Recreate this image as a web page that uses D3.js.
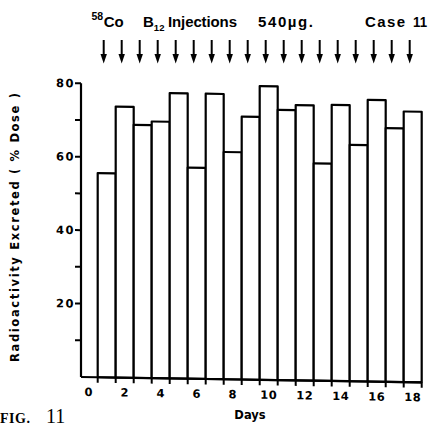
<!DOCTYPE html>
<html>
<head>
<meta charset="utf-8">
<script src="https://cdn.jsdelivr.net/npm/d3@7"></script>
<style>
  html, body { margin: 0; padding: 0; background: #fff; }
  svg { display: block; }
</style>
</head>
<body>
<svg id="chart" width="432" height="426"></svg>
<script>
// Daily urinary radioactivity after repeated 58Co B12 injections (Case 11)
const days = [1, 2, 3, 4, 5, 6, 7, 8, 9, 10, 11, 12, 13, 14, 15, 16, 17, 18];
const excreted = [55.6, 73.8, 68.9, 69.9, 77.7, 57.5, 77.7, 61.9, 71.6, 80.0,
                  73.6, 75.0, 59.2, 75.2, 64.4, 76.7, 69.1, 73.7];
const injectionDays = [1, 2, 3, 4, 5, 6, 7, 8, 9, 10, 11, 12, 13, 14, 15, 16, 17, 18];
const xTickLabels = [0, 2, 4, 6, 8, 10, 12, 14, 16, 18];
const yTickValues = [10, 20, 30, 40, 50, 60, 70, 80];
const yTickLabels = [20, 40, 60, 80];

const svg = d3.select("#chart");
const sans = "'DejaVu Sans', 'Liberation Sans', sans-serif";

const axisX = 81, baseY = 377, topY = 83.3;
const x = d3.scaleLinear().domain([0.5, 18.5]).range([97.7, 421.7]);
const y = d3.scaleLinear().domain([0, 80]).range([baseY, topY]);

// plot area with the slight slant of the printed figure
const plot = svg.append("g")
  .attr("transform", `translate(${axisX},${baseY}) skewY(0.9) translate(${-axisX},${-baseY})`);

// bars
plot.append("g").selectAll("rect")
  .data(days.map((d, i) => ({ d, v: excreted[i] })))
  .join("rect")
  .attr("x", p => x(p.d - 0.5))
  .attr("width", p => x(p.d + 0.5) - x(p.d - 0.5))
  .attr("y", p => y(p.v))
  .attr("height", p => y(0) - y(p.v))
  .attr("fill", "#fff")
  .attr("stroke", "#000")
  .attr("stroke-width", 2.2)
  .attr("stroke-linejoin", "round");

// y axis line
plot.append("line")
  .attr("x1", axisX).attr("x2", axisX)
  .attr("y1", y(80)).attr("y2", y(0))
  .attr("stroke", "#000").attr("stroke-width", 2.2);

// x axis line
plot.append("line")
  .attr("x1", axisX).attr("x2", x(18.5))
  .attr("y1", y(0)).attr("y2", y(0))
  .attr("stroke", "#000").attr("stroke-width", 2.2);

// y ticks
plot.append("g").selectAll("line")
  .data(yTickValues).join("line")
  .attr("x1", axisX - 6).attr("x2", axisX)
  .attr("y1", d => y(d)).attr("y2", d => y(d))
  .attr("stroke", "#000").attr("stroke-width", 2);

plot.append("g").selectAll("text")
  .data(yTickLabels).join("text")
  .attr("x", axisX - 6).attr("y", d => y(d))
  .attr("dy", "0.36em")
  .attr("text-anchor", "end")
  .attr("font-family", sans).attr("font-weight", "bold")
  .attr("font-size", 11.5).attr("letter-spacing", 1.5)
  .text(d => d);

// x ticks at the day boundaries
plot.append("g").selectAll("line")
  .data(d3.range(0.5, 18.6, 1)).join("line")
  .attr("x1", d => x(d)).attr("x2", d => x(d))
  .attr("y1", y(0)).attr("y2", y(0) + 5.5)
  .attr("stroke", "#000").attr("stroke-width", 2);

plot.append("g").selectAll("text")
  .data(xTickLabels).join("text")
  .attr("x", d => x(d)).attr("y", 396)
  .attr("text-anchor", "middle")
  .attr("font-family", sans).attr("font-weight", "bold")
  .attr("font-size", 11.5).attr("letter-spacing", 0.5)
  .text(d => d);

// axis titles
svg.append("text")
  .attr("x", 250).attr("y", 419)
  .attr("text-anchor", "middle")
  .attr("font-family", sans).attr("font-weight", "bold")
  .attr("font-size", 11.5)
  .text("Days");

svg.append("text")
  .attr("transform", "translate(19,227.5) rotate(-90)")
  .attr("text-anchor", "middle")
  .attr("font-family", sans).attr("font-weight", "bold")
  .attr("font-size", 11.5)
  .attr("textLength", 269).attr("lengthAdjust", "spacing")
  .text("Radioactivity Excreted ( % Dose )");

// injection arrows
const arrows = svg.append("g");
injectionDays.forEach(d => {
  const ax = x(d) - 3;
  arrows.append("line")
    .attr("x1", ax).attr("x2", ax)
    .attr("y1", 40).attr("y2", 56)
    .attr("stroke", "#000").attr("stroke-width", 2);
  arrows.append("path")
    .attr("d", `M${ax - 3.2},54 L${ax + 3.2},54 L${ax},63.5 Z`)
    .attr("fill", "#000");
});

// heading: isotope, compound, dose and case number
const title = svg.append("g")
  .attr("font-family", "'Liberation Sans', Arial, sans-serif")
  .attr("font-weight", "bold")
  .attr("fill", "#000");

const iso = title.append("text").attr("x", 91.5).attr("y", 26.7).attr("font-size", 15);
iso.append("tspan").attr("font-size", 10.5).attr("dy", -7.2).text("58");
iso.append("tspan").attr("dy", 7.2).attr("dx", 0.5).text("Co");

const b12 = title.append("text").attr("x", 143).attr("y", 26.7).attr("font-size", 15);
b12.append("tspan").text("B");
b12.append("tspan").attr("font-size", 9.5).attr("dy", 3.8).text("12");

title.append("text").attr("x", 168).attr("y", 26.7).attr("font-size", 15)
  .attr("textLength", 69).attr("lengthAdjust", "spacing").text("Injections");
title.append("text").attr("x", 258).attr("y", 26.7).attr("font-size", 15)
  .attr("textLength", 55).attr("lengthAdjust", "spacing").text("540µg.");
title.append("text").attr("x", 365).attr("y", 26.7).attr("font-size", 15)
  .attr("textLength", 40).attr("lengthAdjust", "spacing").text("Case");
title.append("text").attr("x", 413).attr("y", 26.7).attr("font-size", 15)
  .attr("textLength", 14).attr("lengthAdjust", "spacingAndGlyphs").text("11");

// figure caption
svg.append("text")
  .attr("x", 0).attr("y", 423)
  .attr("font-family", "'Liberation Serif', 'Times New Roman', serif")
  .attr("font-weight", "bold").attr("font-size", 14)
  .attr("letter-spacing", 0.5)
  .text("FIG.");
svg.append("text")
  .attr("x", 46).attr("y", 423)
  .attr("font-family", "'Liberation Serif', 'Times New Roman', serif")
  .attr("font-size", 20)
  .text("11");
</script>
</body>
</html>
